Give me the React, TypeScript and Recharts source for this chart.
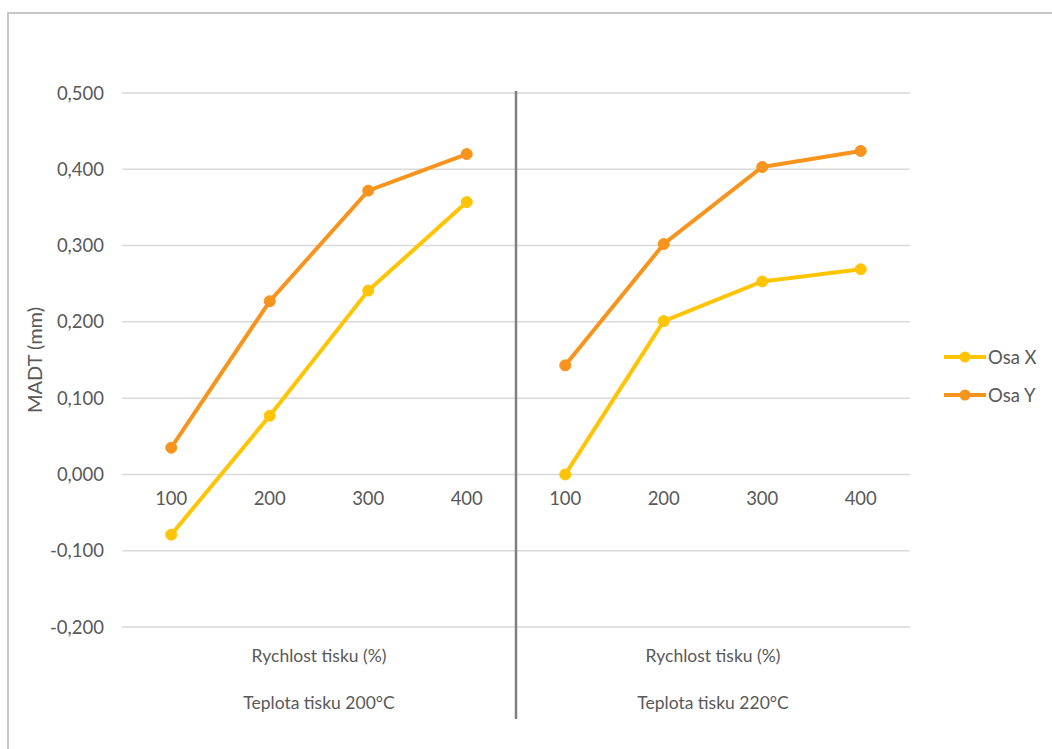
import React from 'react';
import { LineChart, Line, XAxis, YAxis, CartesianGrid, Legend, ReferenceLine } from 'recharts';

const speeds = ['100', '200', '300', '400'];
const groupLabels = ['Teplota tisku 200°C', 'Teplota tisku 220°C'];
const osaX200 = [-0.079, 0.077, 0.241, 0.357];
const osaY200 = [0.035, 0.227, 0.372, 0.42];
const osaX220 = [0.0, 0.201, 0.253, 0.269];
const osaY220 = [0.143, 0.302, 0.403, 0.424];
const yTicks = [-0.2, -0.1, 0, 0.1, 0.2, 0.3, 0.4, 0.5];

const W = 1052;
const H = 749;
const TOP = 93;
const BOTTOM = 122;
const Y_MIN = -0.2;
const Y_MAX = 0.5;
const TEXT = '#595959';
const YELLOW = '#FFC505';
const ORANGE = '#F7941D';
const FS = 17.5;
const NUM_FS = 18.5;

const data = [...speeds, ...speeds].map((s, i) => ({
  idx: i,
  speed: s,
  x1: i < 4 ? osaX200[i] : null,
  y1: i < 4 ? osaY200[i] : null,
  x2: i >= 4 ? osaX220[i - 4] : null,
  y2: i >= 4 ? osaY220[i - 4] : null,
}));

// y of the zero line, where excel puts the category labels
const zeroY = TOP + ((H - TOP - BOTTOM) * (Y_MAX - 0)) / (Y_MAX - Y_MIN);

const SpeedTick = ({ x, payload }: any) => (
  <text x={x} y={zeroY + 31} textAnchor="middle" fill={TEXT} fontSize={NUM_FS}>
    {data[payload.value] ? data[payload.value].speed : ''}
  </text>
);

const GroupTick = ({ x, y, payload }: any) => (
  <g>
    <text x={x} y={y + 34} textAnchor="middle" fill={TEXT} fontSize={FS}>
      Rychlost tisku (%)
    </text>
    <text x={x} y={y + 81} textAnchor="middle" fill={TEXT} fontSize={FS}>
      {groupLabels[payload.value < 4 ? 0 : 1]}
    </text>
  </g>
);

const Divider = (props: any) => {
  const { x1, x2, y1, y2 } = props;
  return (
    <line
      x1={x1}
      x2={x2}
      y1={Math.min(y1, y2) - 2}
      y2={Math.max(y1, y2) + 92}
      stroke="#808080"
      strokeWidth={2.5}
    />
  );
};

const LegendContent = (props: any) => (
  <div>
    {(props.payload || [])
      .filter((p: any) => p.type !== 'none' && p.value && p.value.startsWith('Osa'))
      .map((p: any) => (
        <div key={p.value} style={{ display: 'flex', alignItems: 'center', height: 38 }}>
          <svg width={44} height={14}>
            <line x1={1} x2={43} y1={7} y2={7} stroke={p.color} strokeWidth={4} />
            <circle cx={22} cy={7} r={5.5} fill={p.color} />
          </svg>
          <span style={{ color: TEXT, fontSize: NUM_FS, marginLeft: 1 }}>{p.value}</span>
        </div>
      ))}
  </div>
);

const App = () => {
  return (
    <div
      style={{
        position: 'absolute',
        left: 0,
        top: 0,
        width: W,
        height: H,
        overflow: 'hidden',
        background: '#fff',
        fontFamily: 'Lato, "Open Sans", sans-serif',
      }}
    >
      <div
        style={{
          position: 'absolute',
          left: 7,
          top: 12,
          width: 1100,
          height: 800,
          border: '2.5px solid #c8c8c8',
          boxSizing: 'border-box',
        }}
      />
      <div style={{ position: 'absolute', left: 0, top: 0 }}>
        <LineChart width={W} height={H} data={data} margin={{ top: TOP, right: 142, left: 22, bottom: 0 }}>
          <CartesianGrid vertical={false} stroke="#d9d9d9" strokeWidth={1.5} xAxisId="cat" />
          <XAxis
            xAxisId="cat"
            dataKey="idx"
            type="category"
            scale="band"
            height={1}
            axisLine={false}
            tickLine={false}
            tickSize={0}
            tickMargin={0}
            interval={0}
            tick={<SpeedTick />}
          />
          <XAxis
            xAxisId="grp"
            dataKey="idx"
            type="number"
            domain={[-0.5, 7.5]}
            ticks={[1.5, 5.5]}
            allowDataOverflow
            height={121}
            axisLine={false}
            tickLine={false}
            tickSize={0}
            tickMargin={0}
            tick={<GroupTick />}
          />
          <YAxis
            width={100}
            domain={[Y_MIN, Y_MAX]}
            ticks={yTicks}
            axisLine={false}
            tickLine={false}
            tickSize={0}
            tickMargin={18}
            tick={{ fill: TEXT, fontSize: NUM_FS }}
            tickFormatter={(v: number) => v.toFixed(3).replace('.', ',')}
            label={{
              value: 'MADT (mm)',
              angle: -90,
              position: 'insideLeft',
              offset: 13,
              fill: TEXT,
              fontSize: 20,
              style: { textAnchor: 'middle' },
            }}
          />
          <ReferenceLine xAxisId="grp" x={3.5} shape={<Divider />} />
          <Legend
            layout="vertical"
            align="center"
            verticalAlign="middle"
            wrapperStyle={{ left: 943, top: 338, width: 110 }}
            content={<LegendContent />}
          />
          <Line
            xAxisId="cat"
            dataKey="x1"
            name="Osa X"
            stroke={YELLOW}
            strokeWidth={4}
            dot={{ r: 5.5, fill: YELLOW, stroke: YELLOW, strokeWidth: 1 }}
            isAnimationActive={false}
          />
          <Line
            xAxisId="cat"
            dataKey="y1"
            name="Osa Y"
            stroke={ORANGE}
            strokeWidth={4}
            dot={{ r: 5.5, fill: ORANGE, stroke: ORANGE, strokeWidth: 1 }}
            isAnimationActive={false}
          />
          <Line
            xAxisId="cat"
            dataKey="x2"
            name="x2"
            legendType="none"
            stroke={YELLOW}
            strokeWidth={4}
            dot={{ r: 5.5, fill: YELLOW, stroke: YELLOW, strokeWidth: 1 }}
            isAnimationActive={false}
          />
          <Line
            xAxisId="cat"
            dataKey="y2"
            name="y2"
            legendType="none"
            stroke={ORANGE}
            strokeWidth={4}
            dot={{ r: 5.5, fill: ORANGE, stroke: ORANGE, strokeWidth: 1 }}
            isAnimationActive={false}
          />
        </LineChart>
      </div>
    </div>
  );
};

export default App;
